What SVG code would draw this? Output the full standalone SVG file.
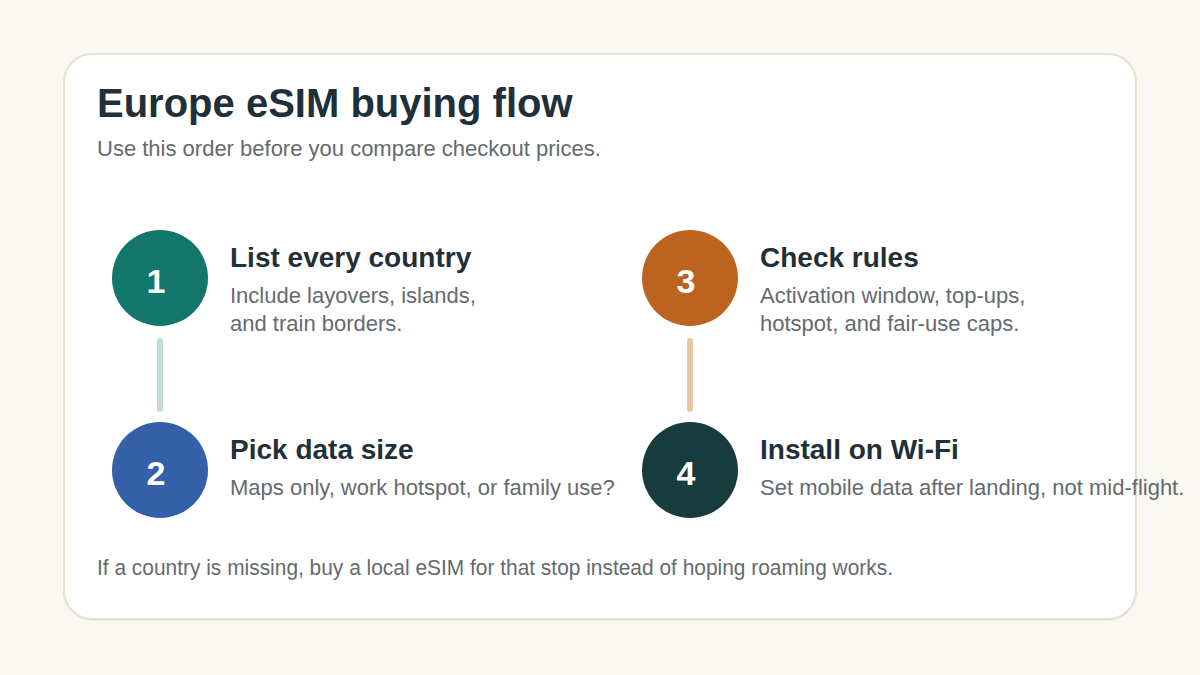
<svg xmlns="http://www.w3.org/2000/svg" width="1200" height="675" viewBox="0 0 1200 675">
<style>
.t{font-family:"Liberation Sans",Arial,sans-serif}
.title{font-size:40px;font-weight:700;fill:#1f3038}
.sub{font-size:22px;fill:#656a6e}
.h{font-size:28px;font-weight:700;fill:#1f3038}
.d{font-size:22px;fill:#656a6e}
.num{font-size:34px;font-weight:700;fill:#ffffff;text-anchor:middle}
.conn{stroke-width:6;stroke-linecap:round;fill:none}
</style>
<rect width="1200" height="675" fill="#f9f8f3"/>
<g id="card">
<rect x="65" y="57" width="1071" height="564" rx="28" fill="#e4dfcf" opacity="0.6"/>
<rect x="64" y="54" width="1072" height="565" rx="28" fill="#ffffff" stroke="#e6e1cf" stroke-width="2"/>
</g>
<g id="header">
<text class="t title" x="97" y="117">Europe eSIM buying flow</text>
<text class="t sub" x="97" y="156">Use this order before you compare checkout prices.</text>
</g>
<g id="connectors">
<line class="conn" x1="160" y1="341" x2="160" y2="409" stroke="#c3ddd4"/>
<line class="conn" x1="690" y1="341" x2="690" y2="409" stroke="#e6c9a1"/>
</g>
<g id="step1">
<circle cx="160" cy="278" r="48" fill="#12766a"/>
<text class="t num" x="156" y="293">1</text>
<text class="t h" x="230" y="267">List every country</text>
<text class="t d" x="230" y="303">Include layovers, islands,</text>
<text class="t d" x="230" y="331">and train borders.</text>
</g>
<g id="step2">
<circle cx="160" cy="470" r="48" fill="#3360a8"/>
<text class="t num" x="156" y="485">2</text>
<text class="t h" x="230" y="459">Pick data size</text>
<text class="t d" x="230" y="495">Maps only, work hotspot, or family use?</text>
</g>
<g id="step3">
<circle cx="690" cy="278" r="48" fill="#bd6320"/>
<text class="t num" x="686" y="293">3</text>
<text class="t h" x="760" y="267">Check rules</text>
<text class="t d" x="760" y="303">Activation window, top-ups,</text>
<text class="t d" x="760" y="331">hotspot, and fair-use caps.</text>
</g>
<g id="step4">
<circle cx="690" cy="470" r="48" fill="#183c3e"/>
<text class="t num" x="686" y="485">4</text>
<text class="t h" x="760" y="459">Install on Wi-Fi</text>
<text class="t d" x="760" y="495">Set mobile data after landing, not mid-flight.</text>
</g>
<g id="footer">
<text class="t d" x="97" y="575" textLength="796" lengthAdjust="spacingAndGlyphs">If a country is missing, buy a local eSIM for that stop instead of hoping roaming works.</text>
</g>
</svg>
